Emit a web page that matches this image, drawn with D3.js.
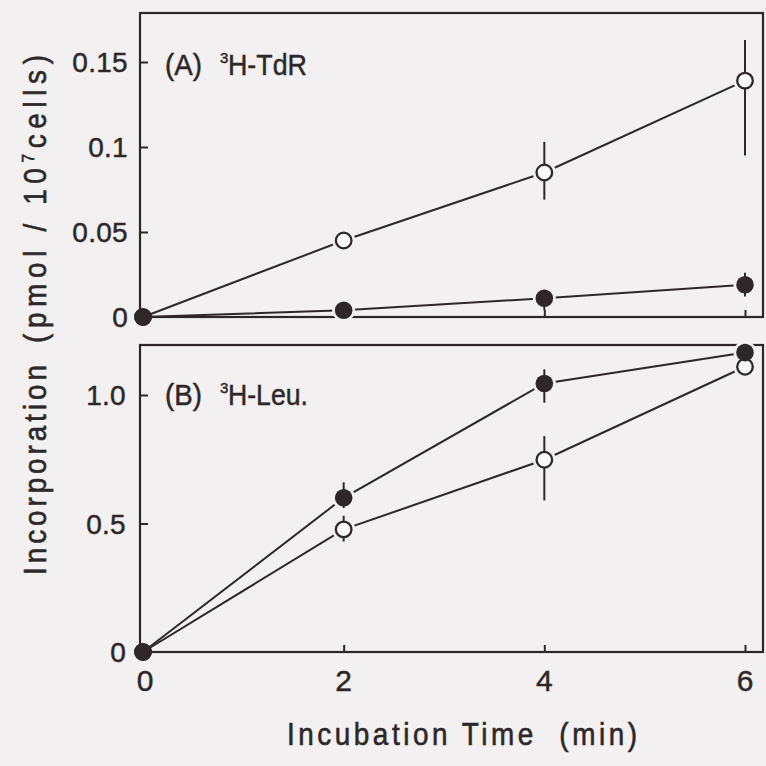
<!DOCTYPE html>
<html>
<head>
<meta charset="utf-8">
<script src="https://cdn.jsdelivr.net/npm/d3@7/dist/d3.min.js"></script>
<style>
  html, body { margin: 0; padding: 0; background: #f2f0f0; }
  svg { display: block; }
  text { font-family: "Liberation Sans", Arial, Helvetica, sans-serif; fill: #2d2729; stroke: #2d2729; stroke-width: 0.45; }
  .title text { stroke-width: 0.6; }
</style>
</head>
<body>
<svg id="chart" width="766" height="766"></svg>
<script>
// Incubation time points (min)
const times = [0, 2, 4, 6];
const xTicks = [0, 2, 4, 6];

// Panel A: 3H-TdR incorporation (pmol / 10^7 cells)
const tdrOpen = [0, 0.045, 0.085, 0.139];
const tdrOpenLo = [null, null, 0.069, 0.095];
const tdrOpenHi = [null, null, 0.103, 0.163];
const tdrFilled = [0, 0.004, 0.011, 0.019];
const tdrFilledLo = [null, null, 0.004, 0.012];
const tdrFilledHi = [null, null, 0.016, 0.026];
const tdrTicks = [0, 0.05, 0.1, 0.15];
const tdrTickLabels = ["0", "0.05", "0.1", "0.15"];

// Panel B: 3H-Leu incorporation (pmol / 10^7 cells)
const leuOpen = [0, 0.477, 0.748, 1.11];
const leuOpenLo = [null, 0.43, 0.59, null];
const leuOpenHi = [null, 0.53, 0.84, null];
const leuFilled = [0, 0.60, 1.045, 1.165];
const leuFilledLo = [null, 0.56, 0.97, null];
const leuFilledHi = [null, 0.66, 1.10, null];
const leuTicks = [0, 0.5, 1.0];
const leuTickLabels = ["0", "0.5", "1.0"];

const INK = "#2d2729";
const BG = "#f2f0f0";
const SQUEEZE = 0.9;   // horizontal squeeze for the condensed title lettering

const svg = d3.select("#chart");
svg.append("rect").attr("width", 766).attr("height", 766).attr("fill", BG);

const x = d3.scaleLinear().domain([0, 6]).range([143, 745]);
const boxLeft = 140, boxRight = 763;

function series(vals, lo, hi) {
  return times.map((t, i) => ({ t, v: vals[i], lo: lo[i], hi: hi[i] }));
}

// condensed text run squeezed into a given length
function run(parent, str, xPos, yPos, size, len) {
  return parent.append("text")
    .attr("x", xPos).attr("y", yPos)
    .attr("font-size", size)
    .attr("textLength", len).attr("lengthAdjust", "spacingAndGlyphs")
    .text(str);
}

function panel(opts) {
  const y = d3.scaleLinear().domain(opts.domain).range(opts.range);
  const g = svg.append("g");
  const top = opts.top, bottom = y(0);

  // frame
  g.append("rect")
    .attr("x", boxLeft).attr("y", top)
    .attr("width", boxRight - boxLeft).attr("height", bottom - top)
    .attr("fill", "none").attr("stroke", INK).attr("stroke-width", 2.2);

  // left axis, ticks pointing inward
  const yAxis = d3.axisRight(y).tickValues(opts.ticks).tickSize(8).tickFormat("");
  const ya = g.append("g").attr("transform", `translate(${boxLeft},0)`).call(yAxis);
  ya.select(".domain").remove();
  ya.selectAll("line").attr("stroke", INK).attr("stroke-width", 2);

  g.selectAll("text.ytl").data(opts.ticks).join("text")
    .attr("class", "ytl")
    .attr("x", opts.labelRight).attr("y", d => y(d))
    .attr("dy", "0.36em")
    .attr("text-anchor", "end")
    .attr("font-size", 28)
    .attr("letter-spacing", 0.3)
    .text((d, i) => opts.tickLabels[i]);

  // bottom axis, ticks pointing inward
  const xAxis = d3.axisTop(x).tickValues(xTicks.filter(d => d > 0)).tickSize(7).tickFormat("");
  const xa = g.append("g").attr("transform", `translate(0,${bottom})`).call(xAxis);
  xa.select(".domain").remove();
  xa.selectAll("line").attr("stroke", INK).attr("stroke-width", 2);

  const line = d3.line().x(d => x(d.t)).y(d => y(d.v));
  const all = [opts.open, opts.filled];

  all.forEach(s => {
    g.append("path").datum(s).attr("d", line)
      .attr("fill", "none").attr("stroke", INK).attr("stroke-width", 2);
  });

  // small gap between connecting lines and markers
  all.forEach(s => {
    g.selectAll(null).data(s.filter(d => d.t > 0)).join("circle")
      .attr("cx", d => x(d.t)).attr("cy", d => y(d.v)).attr("r", 11.5)
      .attr("fill", BG);
  });

  // error bars
  all.forEach(s => {
    g.selectAll(null).data(s.filter(d => d.lo != null)).join("line")
      .attr("x1", d => x(d.t)).attr("x2", d => x(d.t))
      .attr("y1", d => y(d.lo)).attr("y2", d => y(d.hi))
      .attr("stroke", INK).attr("stroke-width", 2);
  });

  // open markers
  g.selectAll(null).data(opts.open).join("circle")
    .attr("cx", d => x(d.t)).attr("cy", d => y(d.v)).attr("r", 7.8)
    .attr("fill", "#fbfafa").attr("stroke", INK).attr("stroke-width", 2.3);
  // filled markers
  g.selectAll(null).data(opts.filled).join("circle")
    .attr("cx", d => x(d.t)).attr("cy", d => y(d.v)).attr("r", 8.8)
    .attr("fill", INK);

  // panel label: "(A)  ³H-TdR"
  const base = opts.labelBase;
  run(g, opts.letter, 165, base, 30, 37);
  g.append("text").attr("x", 220).attr("y", base - 12).attr("font-size", 15)
    .attr("stroke-width", 0.3).text("3");
  run(g, opts.isotope, 228, base, 30, opts.isoLen);
  return y;
}

panel({
  domain: [0, 0.15], range: [317, 62], top: 13,
  ticks: tdrTicks, tickLabels: tdrTickLabels, labelRight: 128,
  open: series(tdrOpen, tdrOpenLo, tdrOpenHi),
  filled: series(tdrFilled, tdrFilledLo, tdrFilledHi),
  letter: "(A)", isotope: "H-TdR", isoLen: 79, labelBase: 75
});

panel({
  domain: [0, 1], range: [652, 395], top: 345,
  ticks: leuTicks, tickLabels: leuTickLabels, labelRight: 126,
  open: series(leuOpen, leuOpenLo, leuOpenHi),
  filled: series(leuFilled, leuFilledLo, leuFilledHi),
  letter: "(B)", isotope: "H-Leu.", isoLen: 80, labelBase: 405
});

// x tick labels
svg.selectAll("text.xtl").data(xTicks).join("text")
  .attr("class", "xtl")
  .attr("x", d => x(d) + (d === 0 ? 2 : 0)).attr("y", 680).attr("dy", "0.36em")
  .attr("text-anchor", "middle").attr("font-size", 30)
  .text(d => d);

// x axis title: condensed letters, widely tracked
const xt = svg.append("g").attr("class", "title")
  .attr("transform", `translate(287,745) scale(${SQUEEZE},1)`);
xt.append("text")
  .attr("x", 0).attr("y", 0)
  .attr("font-size", 31)
  .attr("textLength", 350 / SQUEEZE).attr("lengthAdjust", "spacing")
  .attr("xml:space", "preserve")
  .text("Incubation Time  (min)");

// y axis title, read bottom to top
const yt = svg.append("g").attr("class", "title")
  .attr("transform", `translate(46,0) rotate(-90) scale(${SQUEEZE},1)`);
yt.append("text")
  .attr("x", -575 / SQUEEZE).attr("y", 0)
  .attr("font-size", 31)
  .attr("textLength", 210 / SQUEEZE).attr("lengthAdjust", "spacing")
  .text("Incorporation");
const unit = yt.append("text")
  .attr("x", -343 / SQUEEZE).attr("y", 0)
  .attr("font-size", 31)
  .attr("textLength", 288 / SQUEEZE).attr("lengthAdjust", "spacing")
  .attr("xml:space", "preserve");
unit.append("tspan").text("(pmol / 10");
unit.append("tspan").attr("font-size", 17).attr("baseline-shift", "70%").text("7");
unit.append("tspan").attr("baseline-shift", "0%").text("cells)");
</script>
</body>
</html>
